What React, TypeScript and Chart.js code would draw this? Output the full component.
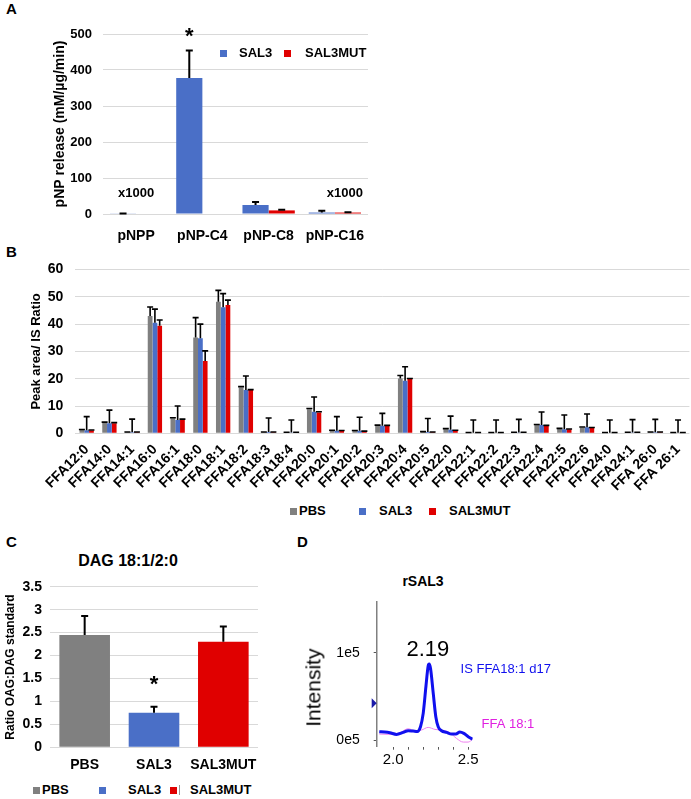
import React, { useEffect, useRef } from "react";
import { Chart, registerables } from "chart.js";
Chart.register(...registerables);

const FONT = "'Liberation Sans', Arial, Helvetica, sans-serif";
Chart.defaults.font.family = FONT;
Chart.defaults.color = "#000";

const BLUE = "#4A6FC7";
const RED = "#E00000";
const GRAY = "#808080";
const GRID = "#D9D9D9";

// ---------- Panel A ----------
const aCategories = ["pNPP", "pNP-C4", "pNP-C8", "pNP-C16"];
const aSal3 = [1, 378, 25, 4];
const aSal3Err = [0.5, 76, 8, 5];
const aMut = [0, 0, 10, 4];
const aMutErr = [0, 0, 2, 1];

// ---------- Panel B ----------
const bCategories = [
  "FFA12:0", "FFA14:0", "FFA14:1", "FFA16:0", "FFA16:1", "FFA18:0", "FFA18:1",
  "FFA18:2", "FFA18:3", "FFA18:4", "FFA20:0", "FFA20:1", "FFA20:2", "FFA20:3",
  "FFA20:4", "FFA20:5", "FFA22:0", "FFA22:1", "FFA22:2", "FFA22:3", "FFA22:4",
  "FFA22:5", "FFA22:6", "FFA24:0", "FFA24:1", "FFA 26:0", "FFA 26:1",
];
const bPbs = [1.2, 3.9, 0.4, 43.0, 5.5, 35.1, 48.2, 16.8, 0.4, 0.3, 8.8, 0.9, 0.85, 2.8, 20.1, 0.5, 1.5, 0.2, 0.2, 0.3, 3.0, 1.7, 2.0, 0.2, 0.3, 0.4, 0.2];
const bPbsErr = [0.2, 0.2, 0.1, 3.3, 0.2, 7.3, 4.2, 0.3, 0.1, 0.1, 0.3, 0.2, 0.2, 0.2, 1.1, 0.1, 0.2, 0.1, 0.1, 0.1, 0.2, 0.1, 0.3, 0.1, 0.1, 0.1, 0.1];
const bSal3 = [1.1, 3.7, 0.4, 40.5, 4.9, 34.8, 46.2, 15.9, 0.5, 0.3, 7.9, 0.9, 0.9, 2.8, 19.3, 0.5, 1.3, 0.2, 0.2, 0.3, 3.0, 1.5, 2.2, 0.2, 0.3, 0.4, 0.2];
const bSal3Err = [5.0, 4.8, 4.8, 5.0, 5.1, 5.2, 5.0, 5.1, 5.1, 4.6, 5.4, 5.2, 5.0, 4.5, 5.1, 4.9, 5.0, 4.7, 4.7, 4.8, 4.8, 5.2, 4.9, 4.7, 4.7, 4.7, 4.7];
const bMut = [1.0, 3.7, 0.4, 39.4, 5.1, 26.5, 47.0, 15.9, 0.4, 0.3, 7.6, 0.9, 0.7, 2.8, 19.9, 0.4, 1.0, 0.2, 0.2, 0.3, 2.8, 1.5, 2.0, 0.2, 0.3, 0.4, 0.2];
const bMutErr = [0.2, 0.2, 0.1, 2.1, 0.1, 3.7, 1.8, 0.1, 0.1, 0.1, 0.3, 0.1, 0.1, 0.1, 0.2, 0.1, 0.1, 0.1, 0.1, 0.1, 0.1, 0.1, 0.1, 0.1, 0.1, 0.1, 0.1];

// ---------- Panel C ----------
const cCategories = ["PBS", "SAL3", "SAL3MUT"];
const cValues = [2.45, 0.755, 2.3];
const cErr = [0.41, 0.13, 0.33];

// ---------- Panel D ----------
const dIsX = [1.907, 1.944, 1.978, 2.022, 2.067, 2.1, 2.133, 2.16, 2.182, 2.2, 2.218, 2.233, 2.24, 2.249, 2.267, 2.284, 2.3, 2.322, 2.356, 2.389, 2.418, 2.444, 2.471, 2.5, 2.529];
const dIsY = [0.095, 0.092, 0.084, 0.065, 0.088, 0.107, 0.103, 0.099, 0.153, 0.305, 0.61, 0.847, 0.87, 0.82, 0.534, 0.267, 0.153, 0.107, 0.088, 0.069, 0.069, 0.092, 0.076, 0.038, 0.011];
const dFfaX = [1.907, 1.978, 2.044, 2.1, 2.144, 2.189, 2.233, 2.278, 2.333, 2.378, 2.422, 2.467, 2.5, 2.529];
const dFfaY = [0.069, 0.065, 0.084, 0.13, 0.107, 0.115, 0.145, 0.122, 0.111, 0.084, 0.019, -0.023, -0.023, 0.008];
const dXTicks = [2.0, 2.1, 2.2, 2.3, 2.4, 2.5];
const dYTicks = [0, 1];

// ---------- plugins ----------
function makeErrorPlugin(errors: number[][], lineWidth: number, cap: number) {
  return {
    id: "errorBars",
    afterDatasetsDraw(chart: any) {
      const ctx = chart.ctx;
      const y = chart.scales.y;
      errors.forEach((errs, di) => {
        const meta = chart.getDatasetMeta(di);
        const data = chart.data.datasets[di].data as number[];
        meta.data.forEach((el: any, i: number) => {
          const e = errs[i];
          if (!e) return;
          const x = el.x;
          const y0 = y.getPixelForValue(data[i]);
          const y1 = y.getPixelForValue(data[i] + e);
          ctx.save();
          ctx.strokeStyle = "#000";
          ctx.lineWidth = lineWidth;
          ctx.beginPath();
          ctx.moveTo(x, y0);
          ctx.lineTo(x, y1);
          ctx.moveTo(x - cap / 2, y1);
          ctx.lineTo(x + cap / 2, y1);
          ctx.stroke();
          ctx.restore();
        });
      });
    },
  };
}

type TextItem = {
  text: string;
  x?: number;
  dataset?: number;
  index?: number;
  y: number;
  font: string;
  color?: string;
  align?: CanvasTextAlign;
  dx?: number;
};

function makeTextPlugin(items: TextItem[]) {
  return {
    id: "texts",
    afterDraw(chart: any) {
      const ctx = chart.ctx;
      for (const it of items) {
        let x: number;
        if (it.dataset !== undefined) x = chart.getDatasetMeta(it.dataset).data[it.index!].x;
        else x = chart.scales.x.getPixelForValue(it.x);
        const y = chart.scales.y.getPixelForValue(it.y);
        ctx.save();
        ctx.font = it.font;
        ctx.fillStyle = it.color || "#000";
        ctx.textAlign = it.align || "center";
        ctx.textBaseline = "middle";
        ctx.fillText(it.text, x + (it.dx || 0), y);
        ctx.restore();
      }
    },
  };
}

const markerPlugin = {
  id: "marker",
  afterDraw(chart: any) {
    const ctx = chart.ctx;
    const left = chart.chartArea.left;
    const y = chart.scales.y.getPixelForValue(0.42);
    ctx.save();
    ctx.fillStyle = "#1a1aa8";
    ctx.beginPath();
    ctx.moveTo(left - 5, y - 5);
    ctx.lineTo(left, y);
    ctx.lineTo(left - 5, y + 5);
    ctx.closePath();
    ctx.fill();
    ctx.restore();
  },
};

const bold = (size: number) => ({ family: FONT, size, weight: "bold" as const });
const fitY = (w: number) => (s: any) => { s.width = w; s.paddingTop = 0; s.paddingBottom = 0; };
const fitX = (h: number) => (s: any) => { s.height = h; s.paddingLeft = 0; s.paddingRight = 0; };

function ChartBox({ config, left, top, width, height }: any) {
  const ref = useRef<HTMLCanvasElement>(null);
  useEffect(() => {
    const c = new Chart(ref.current!, config);
    return () => c.destroy();
  }, []);
  return (
    <canvas
      ref={ref}
      width={width}
      height={height}
      style={{ position: "absolute", left, top, width, height }}
    />
  );
}

function Txt({ x, y, text, size = 13, weight = "bold", color = "#000", center = false, rotate = false }: any) {
  return (
    <div
      style={{
        position: "absolute",
        left: x,
        top: y - size * 0.6,
        fontFamily: FONT,
        fontSize: size,
        fontWeight: weight,
        color,
        lineHeight: `${size * 1.2}px`,
        whiteSpace: "nowrap",
        transform: rotate ? "translateX(-50%) rotate(-90deg)" : center ? "translateX(-50%)" : undefined,
      }}
    >
      {text}
    </div>
  );
}

function Sw({ x, y, color, size = 7 }: any) {
  return <div style={{ position: "absolute", left: x, top: y - size / 2, width: size, height: size, background: color }} />;
}

// ---------- configs ----------
const configA: any = {
  type: "bar",
  data: {
    labels: aCategories,
    datasets: [
      { label: "SAL3", data: aSal3, backgroundColor: BLUE, borderWidth: 0, categoryPercentage: 0.79, barPercentage: 1 },
      { label: "SAL3MUT", data: aMut, backgroundColor: RED, borderWidth: 0, categoryPercentage: 0.79, barPercentage: 1 },
    ],
  },
  options: {
    animation: false,
    responsive: false,
    devicePixelRatio: 1,
    layout: { padding: { top: 14, right: 12, bottom: 0, left: 0 } },
    plugins: { legend: { display: false }, tooltip: { enabled: false } },
    scales: {
      x: {
        grid: { display: false, drawTicks: false },
        border: { display: false },
        ticks: { font: bold(14), padding: 14, color: "#000", maxRotation: 0, minRotation: 0, autoSkip: false },
        afterFit: fitX(36),
      },
      y: {
        min: 0,
        max: 500,
        ticks: { stepSize: 100, font: bold(13), padding: 11, color: "#000" },
        grid: { color: GRID, drawTicks: false, lineWidth: 1 },
        border: { display: false },
        title: { display: true, text: "pNP release (mM/µg/min)", font: bold(14), padding: { top: 52, bottom: 0 } },
        afterFit: fitY(103),
      },
    },
  },
  plugins: [
    makeErrorPlugin([aSal3Err, aMutErr], 2, 7),
    makeTextPlugin([
      { text: "*", dataset: 0, index: 1, y: 492, font: `bold 22px ${FONT}` },
      { text: "x1000", x: 0, y: 58, font: `bold 13px ${FONT}` },
      { text: "x1000", x: 3, y: 58, dx: 10, font: `bold 13px ${FONT}` },
    ]),
  ],
};

const configB: any = {
  type: "bar",
  data: {
    labels: bCategories,
    datasets: [
      { label: "PBS", data: bPbs, backgroundColor: GRAY, borderWidth: 0, categoryPercentage: 0.63, barPercentage: 1 },
      { label: "SAL3", data: bSal3, backgroundColor: BLUE, borderWidth: 0, categoryPercentage: 0.63, barPercentage: 1 },
      { label: "SAL3MUT", data: bMut, backgroundColor: RED, borderWidth: 0, categoryPercentage: 0.63, barPercentage: 1 },
    ],
  },
  options: {
    animation: false,
    responsive: false,
    devicePixelRatio: 1,
    layout: { padding: { top: 19.6, right: 1.6, bottom: 0, left: 0 } },
    plugins: { legend: { display: false }, tooltip: { enabled: false } },
    scales: {
      x: {
        grid: { display: false, drawTicks: false },
        border: { display: false },
        ticks: { font: bold(14), padding: 8, minRotation: 45, maxRotation: 45, autoSkip: false, color: "#000" },
        afterFit: fitX(66.7),
      },
      y: {
        min: 0,
        max: 60,
        ticks: { stepSize: 10, font: bold(14), padding: 12, color: "#000" },
        grid: { color: GRID, drawTicks: false, lineWidth: 1 },
        border: { display: false },
        title: { display: true, text: "Peak area/ IS Ratio", font: bold(13), padding: { top: 29, bottom: 0 } },
        afterFit: fitY(75.3),
      },
    },
  },
  plugins: [makeErrorPlugin([bPbsErr, bSal3Err, bMutErr], 1.6, 6)],
};

const configC: any = {
  type: "bar",
  data: {
    labels: cCategories,
    datasets: [
      { label: "DAG 18:1/2:0", data: cValues, backgroundColor: [GRAY, BLUE, RED], borderWidth: 0, categoryPercentage: 0.73, barPercentage: 1 },
    ],
  },
  options: {
    animation: false,
    responsive: false,
    devicePixelRatio: 1,
    layout: { padding: { top: 11.7, right: 12, bottom: 0, left: 0 } },
    plugins: { legend: { display: false }, tooltip: { enabled: false } },
    scales: {
      x: {
        grid: { display: false, drawTicks: false },
        border: { display: false },
        ticks: { font: bold(14), padding: 9, color: "#000", maxRotation: 0, minRotation: 0, autoSkip: false },
        afterFit: fitX(32.7),
      },
      y: {
        min: 0,
        max: 3.5,
        ticks: { stepSize: 0.5, font: bold(14), padding: 8, color: "#000", callback: (v: any) => String(Number(v)) },
        grid: { color: GRID, drawTicks: false, lineWidth: 1 },
        border: { display: false },
        title: { display: true, text: "Ratio OAG:DAG standard", font: bold(12), padding: { top: 3, bottom: 0 } },
        afterFit: fitY(50),
      },
    },
  },
  plugins: [
    makeErrorPlugin([cErr], 2, 7),
    makeTextPlugin([{ text: "*", dataset: 0, index: 1, y: 1.36, font: `bold 22px ${FONT}` }]),
  ],
};

const configD: any = {
  type: "line",
  data: {
    datasets: [
      {
        label: "IS FFA18:1 d17",
        data: dIsX.map((x, i) => ({ x, y: dIsY[i] })),
        borderColor: "#1010EE",
        borderWidth: 3,
        pointRadius: 0,
        cubicInterpolationMode: "monotone",
        fill: false,
      },
      {
        label: "FFA 18:1",
        data: dFfaX.map((x, i) => ({ x, y: dFfaY[i] })),
        borderColor: "#F080F0",
        borderWidth: 1,
        pointRadius: 0,
        cubicInterpolationMode: "monotone",
        fill: false,
      },
    ],
  },
  options: {
    animation: false,
    responsive: false,
    devicePixelRatio: 1,
    layout: { padding: { top: 11.7, right: 87.3, bottom: 0, left: 0 } },
    plugins: { legend: { display: false }, tooltip: { enabled: false } },
    scales: {
      x: {
        type: "linear",
        min: 1.89,
        max: 2.53,
        afterBuildTicks: (s: any) => { s.ticks = dXTicks.map((v) => ({ value: v })); },
        ticks: {
          font: { family: FONT, size: 15 },
          padding: 1,
          color: "#000",
          autoSkip: false,
          maxRotation: 0,
          callback: (v: any) => (Math.abs(v - 2.0) < 1e-6 ? "2.0" : Math.abs(v - 2.5) < 1e-6 ? "2.5" : ""),
        },
        grid: { display: true, drawOnChartArea: false, drawTicks: true, tickLength: 3, color: "#555" },
        border: { display: false },
        afterFit: fitX(33.3),
      },
      y: {
        min: -0.076,
        max: 1.584,
        afterBuildTicks: (s: any) => { s.ticks = dYTicks.map((v) => ({ value: v })); },
        ticks: {
          font: { family: FONT, size: 14 },
          padding: 14,
          color: "#000",
          callback: (v: any) => `${v}e5`,
        },
        grid: { display: true, drawOnChartArea: false, drawTicks: true, tickLength: 3, color: "#555" },
        border: { display: true, color: "#808080", width: 1.5 },
        afterFit: fitY(76.7),
      },
    },
  },
  plugins: [
    markerPlugin,
    makeTextPlugin([
      { text: "2.19", x: 2.231, y: 1.03, font: `22px ${FONT}` },
      { text: "IS FFA18:1 d17", x: 2.449, y: 0.813, font: `13px ${FONT}`, color: "#1010EE", align: "left" },
      { text: "FFA 18:1", x: 2.589, y: 0.18, font: `13px ${FONT}`, color: "#E020E0", align: "left" },
    ]),
  ],
};

export default function App() {
  return (
    <div style={{ position: "absolute", left: 0, top: 0, width: 691, height: 799, background: "#fff", overflow: "hidden" }}>
      {/* Panel letters */}
      <Txt x={6} y={9} text="A" size={15} />
      <Txt x={6} y={252} text="B" size={15} />
      <Txt x={6} y={542} text="C" size={15} />
      <Txt x={297} y={542} text="D" size={15} />

      {/* Panel A */}
      <ChartBox config={configA} left={0} top={20} width={380} height={230} />
      <Sw x={220} y={53.5} color={BLUE} />
      <Txt x={239} y={53} text="SAL3" size={13} />
      <Sw x={284} y={53.5} color={RED} />
      <Txt x={305} y={53} text="SAL3MUT" size={13} />

      {/* Panel B */}
      <ChartBox config={configB} left={0} top={250} width={691} height={250} />
      <Sw x={290} y={511} color={GRAY} />
      <Txt x={299} y={511} text="PBS" size={13} />
      <Sw x={359} y={511} color={BLUE} />
      <Txt x={379} y={511} text="SAL3" size={13} />
      <Sw x={429} y={511} color={RED} />
      <Txt x={449} y={511} text="SAL3MUT" size={13} />

      {/* Panel C */}
      <Txt x={128} y={561} text="DAG 18:1/2:0" size={16} center />
      <ChartBox config={configC} left={0} top={575} width={270} height={205} />
      <Sw x={33} y={790} color={GRAY} />
      <Txt x={42} y={790} text="PBS" size={13} />
      <Sw x={99} y={790} color={BLUE} />
      <Txt x={128} y={790} text="SAL3" size={13} />
      <Sw x={170} y={790} color={RED} />
      <div style={{ position: "absolute", left: 179, top: 785, width: 1, height: 10, background: "#999" }} />
      <Txt x={190} y={790} text="SAL3MUT" size={13} />

      {/* Panel D */}
      <Txt x={423} y={581} text="rSAL3" size={14} center />
      <ChartBox config={configD} left={300} top={590} width={260} height={190} />
      <Txt x={313} y={688} text="Intensity" size={21} weight="normal" rotate />
    </div>
  );
}
